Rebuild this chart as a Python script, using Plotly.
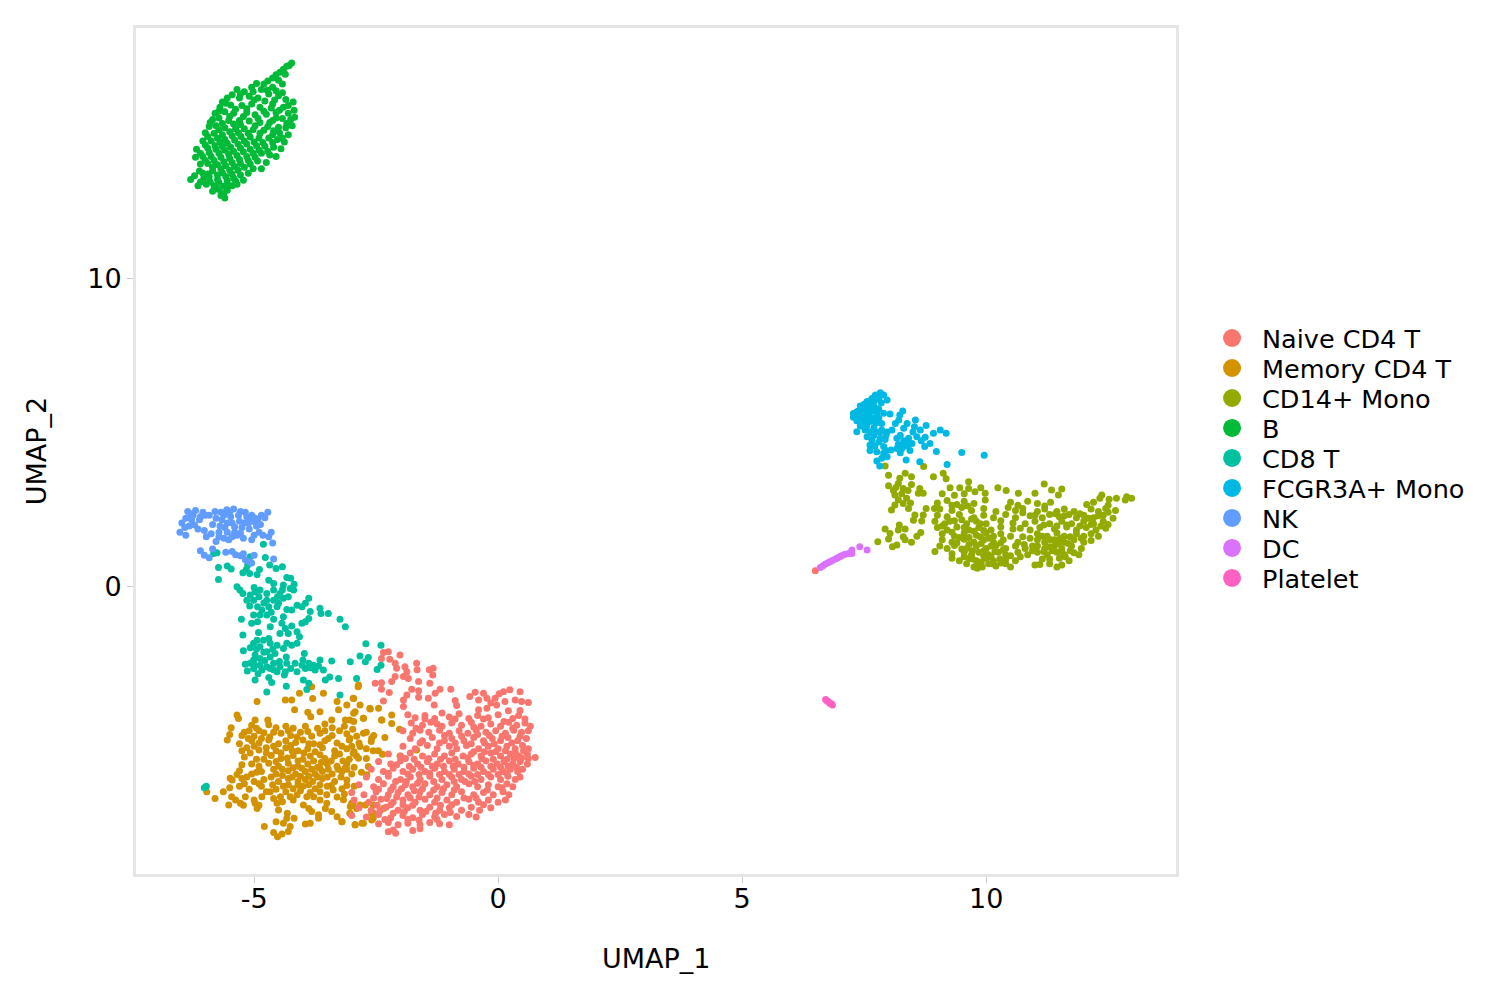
import plotly.graph_objects as go

CATEGORIES = ["Naive CD4 T", "Memory CD4 T", "CD14+ Mono", "B", "CD8 T", "FCGR3A+ Mono", "NK", "DC", "Platelet"]
COLORS = ["#F8766D", "#D39200", "#93AA00", "#00BA38", "#00C19F", "#00B9E3", "#619CFF", "#DB72FB", "#FF61C3"]

B = [(-4.23,16.98),(-4.28,16.9),(-4.33,16.88),(-4.4,16.78),(-4.47,16.68),(-4.36,16.62),(-4.55,16.6),(-4.62,16.5),(-4.5,16.42),(-4.42,16.3),(-4.72,16.4),(-4.8,16.3),(-4.95,16.32),(-5.05,16.2),(-4.85,16.12),(-4.62,16.2),(-4.42,16.02),(-4.5,15.92),(-4.7,15.98),
(-5.35,16.12),(-5.2,16.05),(-5.45,15.95),(-5.55,15.85),(-5.3,15.85),(-5.1,15.9),(-4.92,15.85),(-4.78,15.75),(-4.58,15.78),(-4.35,15.8),(-4.3,15.6),(-4.2,15.72),(-5.65,15.72),(-5.7,15.55),(-5.48,15.62),(-5.25,15.6),(-5.05,15.65),(-4.88,15.55),(-4.65,15.52),(-4.48,15.45),(-4.3,15.35),(-4.18,15.45),
(-5.8,15.35),(-5.6,15.4),(-5.42,15.35),(-5.15,15.38),(-4.98,15.3),(-4.75,15.32),(-4.55,15.2),(-4.42,15.18),(-4.25,15.15),(-4.17,15.22),(-5.85,15.15),(-5.72,15.2),(-5.52,15.12),(-5.3,15.12),(-5.1,15.1),(-4.88,15.05),(-4.68,15.05),(-4.22,14.95),(-4.35,14.88),
(-5.92,14.92),(-5.78,14.95),(-5.6,14.88),(-5.38,14.85),(-5.2,14.85),(-5.02,14.82),(-4.8,14.8),(-4.6,14.78),(-4.48,14.72),(-4.3,14.65),(-6.0,14.72),(-5.82,14.7),(-5.65,14.65),(-5.45,14.62),(-5.27,14.6),(-5.08,14.58),(-4.9,14.55),(-4.7,14.55),(-4.52,14.5),(-4.38,14.42),
(-6.05,14.45),(-5.88,14.45),(-5.7,14.42),(-5.55,14.38),(-5.33,14.35),(-5.15,14.35),(-4.95,14.3),(-4.78,14.28),(-4.6,14.25),(-4.45,14.2),(-6.18,14.18),(-5.95,14.22),(-5.78,14.18),(-5.6,14.15),(-5.42,14.12),(-5.22,14.1),(-5.02,14.05),(-4.85,14.05),(-4.68,14.0),(-4.55,13.95),
(-6.2,13.92),(-6.05,13.95),(-5.88,13.95),(-5.68,13.92),(-5.5,13.88),(-5.3,13.85),(-5.12,13.82),(-4.93,13.8),(-4.75,13.75),(-6.1,13.7),(-5.95,13.72),(-5.75,13.68),(-5.58,13.65),(-5.4,13.62),(-5.2,13.6),(-5.02,13.55),(-4.85,13.55),
(-6.12,13.48),(-5.85,13.48),(-5.65,13.42),(-5.45,13.38),(-5.28,13.35),(-5.12,13.4),(-6.3,13.2),(-6.22,13.32),(-6.03,13.25),(-5.92,13.28),(-5.75,13.2),(-5.55,13.18),(-5.38,13.15),(-5.22,13.18),(-6.15,13.0),(-5.98,13.05),(-5.82,13.0),(-5.62,12.98),(-5.45,13.0),(-5.35,13.05),(-5.85,12.82),(-5.72,12.88),(-5.55,12.85),(-5.68,12.68),(-5.62,12.75),(-5.6,12.6),
(-5.02,16.05),(-4.73,16.1),(-4.55,16.08),(-5.28,15.98),(-5.0,15.78),(-4.62,15.65),(-4.4,15.55),(-5.58,15.68),(-5.38,15.48),(-5.15,15.5),(-4.8,15.42),(-4.55,15.38),(-5.72,15.42),(-5.5,15.25),(-5.22,15.25),(-4.92,15.18),(-4.62,15.12),(-4.33,15.02),(-5.9,15.05),(-5.65,15.02),(-5.42,15.0),(-5.28,14.98),(-4.98,14.95),(-4.72,14.92),(-4.5,14.9),(-5.72,14.82),(-5.5,14.75),(-5.32,14.72),(-5.12,14.7),(-4.88,14.7),(-4.62,14.65),(-4.42,14.55),(-5.95,14.6),(-5.75,14.55),(-5.6,14.5),(-5.4,14.48),(-5.2,14.45),(-5.0,14.42),(-4.82,14.4),(-4.62,14.4),(-6.0,14.32),(-5.8,14.3),(-5.65,14.27),(-5.48,14.25),(-5.28,14.22),(-5.08,14.18),(-4.9,14.15),(-4.72,14.12),(-6.1,14.05),(-5.92,14.08),(-5.72,14.05),(-5.52,14.02),(-5.35,13.98),(-5.15,13.95),(-4.98,13.92),(-6.0,13.82),(-5.82,13.82),(-5.62,13.78),(-5.45,13.75),(-5.28,13.72),(-5.08,13.7),(-5.85,13.6),(-5.68,13.55),(-5.5,13.5),(-5.33,13.5),(-6.05,13.4),(-5.95,13.38),(-5.75,13.35),(-5.58,13.3),(-6.1,13.12),(-5.9,13.12),(-5.72,13.1),(-5.55,13.05),(-5.42,13.25),(-5.8,12.92)]

NK = [(-6.52,1.75),(-6.48,2.05),(-6.42,1.9),(-6.4,2.2),(-6.3,2.35),(-6.22,1.98),(-6.2,2.45),(-6.1,2.25),(-6.05,2.4),(-6.02,1.8),(-5.98,1.6),(-5.92,2.3),(-5.85,2.0),(-5.8,2.42),(-5.78,1.45),(-5.72,1.75),(-5.66,2.15),(-5.6,1.9),(-5.56,2.48),(-5.52,1.5),(-5.48,2.25),(-5.42,2.5),(-5.4,1.75),(-5.3,2.1),(-5.28,2.42),(-5.25,1.9),(-5.22,1.55),(-5.15,2.25),(-5.1,1.85),(-5.05,2.3),(-5.0,1.65),(-4.98,2.08),(-4.92,2.18),(-4.87,2.0),(-4.82,1.65),(-4.78,2.22),(-4.72,2.4),(-4.7,1.6),(-4.65,1.75),(-4.62,1.4),(-6.36,2.42),(-6.28,2.15),(-6.15,1.85),(-6.12,2.15),(-5.88,1.7),(-5.7,1.95),(-5.62,2.3),(-5.45,2.05),(-5.35,1.65),(-5.2,2.05),(-5.08,2.1),(-4.9,1.75),(-5.05,1.5),(-5.85,1.2),(-6.1,1.15),(-6.02,1.0),(-5.92,0.92),(-5.58,1.1),(-5.45,1.12),(-5.38,1.02),(-5.28,0.98),(-5.22,1.05),(-5.18,0.85),(-5.1,0.8),(-5.05,0.75),(-5.0,1.0),(-4.6,0.88),
(-6.33,1.95),(-6.25,2.3),(-6.0,2.3),(-5.78,2.2),(-5.68,2.4),(-5.5,2.38),(-5.55,2.05),(-5.55,1.75),(-5.4,1.92),(-5.32,2.3),(-5.18,2.4),(-5.12,2.05),(-4.95,1.95),(-5.0,2.22),(-4.85,2.3),(-5.28,1.72),(-5.45,1.6),(-5.72,1.6),(-5.62,1.55),(-6.4,1.65)]

CD8 = [(-4.81,1.36),(-5.83,1.06),(-5.76,1.08),(-5.08,0.95),(-4.77,0.93),(-5.73,0.6),(-5.55,0.65),(-5.47,0.55),(-5.73,0.21),(-5.13,0.68),(-5.16,0.54),(-5.23,0.43),(-5.09,0.41),(-4.89,0.54),(-4.94,0.37),(-4.68,0.68),(-4.55,0.57),(-4.42,0.63),(-4.33,0.28),(-4.25,0.25),(-4.7,0.19),(-4.6,0.08),(-4.4,0.03),(-4.18,0.06),(-4.19,-0.13),(-5.35,-0.02),(-5.29,-0.13),(-5.23,-0.24),(-5.08,-0.29),(-4.98,-0.19),(-4.88,-0.13),(-4.74,-0.24),(-4.6,-0.13),(-4.47,-0.24),(-4.3,-0.35),(-4.26,-0.08),(-5.15,-0.46),(-5.01,-0.46),(-4.74,-0.46),(-4.6,-0.46),(-4.5,-0.56),(-4.4,-0.4),(-3.88,-0.4),(-3.95,-0.56),(-4.12,-0.62),(-5.09,-0.65),(-4.93,-0.67),(-4.84,-0.78),(-4.7,-0.67),(-4.53,-0.67),(-4.33,-0.76),(-4.23,-0.78),(-4.02,-0.67),(-3.85,-0.83),(-3.65,-0.72),(-3.63,-0.89),(-3.48,-0.89),(-5.01,-0.94),(-4.88,-0.94),(-4.74,-0.94),(-4.4,-1.0),(-3.88,-1.05),(-3.95,-1.16),(-4.02,-1.21),(-3.24,-1.08),(-3.13,-1.32),(-5.26,-1.08),(-4.93,-1.16),(-5.05,-1.21),(-4.6,-1.08),(-4.43,-1.21),(-4.36,-1.38),(-4.23,-1.3),(-4.67,-1.32),(-5.23,-1.59),(-4.91,-1.51),(-4.47,-1.54),(-4.3,-1.54),(-4.12,-1.48),(-4.07,-1.65),(-4.94,-1.76),(-4.81,-1.76),(-4.7,-1.7),(-5.01,-1.86),(-5.08,-2.0),(-4.88,-1.97),(-4.67,-1.86),(-4.53,-1.92),(-4.33,-1.86),(-4.4,-2.03),(-4.23,-1.92),(-4.12,-1.86),(-5.22,-2.1),(-4.74,-2.13),(-4.57,-2.19),(-4.98,-2.24),(-4.88,-2.35),(-4.67,-2.3),(-4.34,-2.3),(-3.97,-2.19),(-5.01,-2.4),(-5.18,-2.54),(-5.08,-2.51),(-4.88,-2.57),(-4.74,-2.62),(-4.6,-2.51),(-4.47,-2.62),(-4.33,-2.51),(-4.16,-2.51),(-4.02,-2.57),(-3.88,-2.51),(-3.78,-2.57),(-3.65,-2.4),(-3.41,-2.43),(-3.03,-2.46),(-5.14,-2.76),(-5.01,-2.68),(-4.84,-2.73),(-4.67,-2.68),(-4.53,-2.78),(-4.36,-2.78),(-4.12,-2.78),(-3.95,-2.68),(-3.75,-2.73),(-3.58,-2.73),(-4.98,-3.05),(-4.7,-2.97),(-4.64,-3.13),(-4.38,-2.89),(-4.34,-3.25),(-3.99,-3.05),(-3.88,-3.16),(-3.54,-3.05),(-3.45,-2.95),(-3.27,-3.0),(-2.9,-3.0),(-4.74,-3.44),(-3.92,-3.36),(-3.24,-3.54),(-2.71,-1.87),(-2.4,-1.92),(-2.83,-2.27),(-2.66,-2.32),(-2.72,-2.46),(-2.4,-2.57),(-2.48,-2.71),(-5.98,-6.5),(-6.02,-6.55),
(-5.0,-0.05),(-4.9,-0.35),(-4.8,-0.55),(-4.42,-0.12),(-4.52,-0.35),(-4.65,-0.85),(-4.95,-2.05),(-4.8,-2.15),(-4.62,-2.05),(-4.48,-2.45),(-4.25,-2.68),(-4.0,-2.4),(-3.85,-2.65),(-3.68,-2.6),(-5.0,-2.55),(-4.78,-2.42),(-4.92,-2.85),(-4.6,-2.72)]

MEMORY = [(-3.82,-3.27),(-4.07,-3.48),(-3.58,-3.48),(-3.8,-3.65),(-4.36,-3.7),(-4.23,-3.7),(-4.94,-3.75),(-2.87,-3.27),(-2.96,-3.65),(-3.3,-3.75),(-3.1,-3.86),(-2.83,-3.86),(-5.35,-4.19),(-5.32,-4.3),(-4.98,-4.35),(-4.72,-4.35),(-4.17,-4.02),(-3.9,-4.1),(-3.84,-4.24),(-3.65,-4.08),(-3.27,-4.02),(-2.96,-4.13),(-2.62,-3.99),(-2.45,-3.97),(-2.38,-4.35),(-2.76,-4.29),(-3.13,-4.35),(-2.96,-4.4),(-3.41,-4.35),
(-5.47,-4.6),(-5.05,-4.52),(-4.95,-4.62),(-4.7,-4.5),(-4.55,-4.6),(-4.35,-4.55),(-4.2,-4.62),(-3.95,-4.55),(-3.7,-4.62),(-3.55,-4.48),(-3.4,-4.6),(-3.15,-4.55),(-2.98,-4.65),
(-5.5,-4.82),(-5.2,-4.75),(-5.0,-4.88),(-4.8,-4.76),(-4.68,-4.9),(-4.45,-4.78),(-4.25,-4.85),(-4.05,-4.75),(-3.82,-4.88),(-3.65,-4.78),(-3.4,-4.85),(-3.1,-4.8),(-2.9,-4.88),(-2.7,-4.75),(-2.55,-4.85),
(-5.55,-5.0),(-5.3,-5.12),(-5.05,-5.02),(-4.9,-5.1),(-4.7,-5.0),(-4.5,-5.12),(-4.35,-5.02),(-4.15,-5.08),(-4.0,-5.0),(-3.78,-5.12),(-3.55,-5.02),(-3.3,-5.1),(-3.05,-5.0),(-2.85,-5.1),(-2.6,-5.05),
(-5.25,-5.35),(-5.15,-5.25),(-4.9,-5.32),(-4.75,-5.25),(-4.55,-5.35),(-4.35,-5.25),(-4.1,-5.35),(-3.9,-5.28),(-3.75,-5.38),(-3.6,-5.25),(-3.35,-5.35),(-3.1,-5.28),(-2.95,-5.38),(-2.7,-5.28),(-2.45,-5.35),
(-5.2,-5.55),(-4.95,-5.62),(-4.65,-5.5),(-4.45,-5.6),(-4.2,-5.5),(-4.0,-5.62),(-3.85,-5.52),(-3.55,-5.6),(-3.35,-5.52),(-3.05,-5.62),(-2.9,-5.52),(-2.7,-5.6),
(-5.25,-5.8),(-4.9,-5.85),(-4.7,-5.75),(-4.5,-5.85),(-4.3,-5.75),(-4.1,-5.85),(-3.9,-5.78),(-3.7,-5.88),(-3.5,-5.78),(-3.3,-5.85),(-3.1,-5.78),(-2.95,-5.88),
(-5.3,-6.0),(-5.05,-6.1),(-4.85,-6.02),(-4.55,-6.1),(-4.3,-6.0),(-4.15,-6.1),(-3.95,-6.02),(-3.75,-6.1),(-3.6,-6.02),(-3.4,-6.1),(-3.2,-6.02),(-3.0,-6.1),(-2.8,-6.05),
(-5.45,-6.3),(-5.25,-6.25),(-5.0,-6.35),(-4.8,-6.28),(-4.5,-6.35),(-4.3,-6.25),(-4.1,-6.35),(-3.95,-6.28),(-3.8,-6.35),(-3.6,-6.25),(-3.35,-6.35),(-3.1,-6.3),
(-5.5,-6.55),(-5.3,-6.5),(-5.1,-6.6),(-4.85,-6.5),(-4.55,-6.6),(-4.4,-6.5),(-4.2,-6.58),(-4.0,-6.5),(-3.75,-6.58),(-3.5,-6.5),(-3.2,-6.58),(-2.95,-6.5),
(-5.97,-6.68),(-5.8,-6.9),(-5.63,-6.68),(-5.49,-6.24),(-5.46,-6.84),(-5.52,-7.11),(-5.28,-7.05),(-5.18,-6.84),(-4.98,-7.05),(-4.84,-6.84),(-4.67,-6.68),(-4.53,-7.05),(-4.46,-6.84),(-4.26,-6.84),(-4.12,-6.78),(-3.92,-6.84),(-3.78,-6.84),(-3.51,-6.78),(-3.38,-6.62),(-3.51,-7.05),(-3.99,-7.11),(-3.88,-7.22),(-4.94,-7.22),(-4.5,-7.27),(-3.03,-7.16),(-2.9,-7.22),(-2.55,-7.38),(-3.03,-7.38),
(-4.32,-7.38),(-4.33,-7.54),(-4.18,-7.54),(-4.55,-7.65),(-4.4,-7.7),(-4.26,-7.81),(-4.79,-7.81),(-4.6,-8.0),(-4.52,-8.14),(-4.43,-8.05),(-4.3,-7.97),(-3.95,-7.73),(-3.85,-7.7),(-3.82,-7.32),(-3.68,-7.43),(-3.68,-7.54),(-3.54,-7.22),(-3.41,-7.32),(-3.3,-7.49),(-3.2,-7.65),(-2.93,-7.76),(-2.79,-7.7),(-2.72,-7.11),(-2.59,-7.6),(-3.0,-7.05),
(-2.86,-3.21),(-2.97,-3.64),(-2.93,-4.08),(-2.63,-3.97),(-2.18,-4.19),(-2.39,-4.35),(-2.18,-4.46),(-2.02,-4.65),(-2.76,-4.29),(-3.04,-4.35),(-2.76,-4.78),(-2.59,-4.94),(-3.04,-4.94),(-2.32,-4.92),(-2.83,-5.21),(-2.56,-5.35),(-2.37,-5.46),(-2.01,-5.52),(-1.67,-5.32),(-2.97,-5.43),(-2.86,-5.59),(-2.66,-5.86),(-2.69,-6.13),(-3.14,-5.92),(-2.97,-7.11),(-2.83,-7.11),(-2.56,-7.11),(-2.35,-7.22),(-2.59,-7.38),(-3.04,-7.38),(-2.93,-7.74),(-2.76,-7.7),(-2.56,-7.54),(-3.2,-7.65),(-3.17,-6.94),
(-5.1,-4.7),(-4.9,-4.7),(-4.85,-4.95),(-5.12,-4.95),(-5.25,-4.85),(-4.6,-4.75),(-4.3,-4.7),(-4.12,-4.9),(-3.9,-4.72),(-3.55,-4.7),(-3.25,-4.7),(-3.48,-4.95),(-3.2,-5.2),(-3.65,-5.15),(-3.88,-5.12),(-4.25,-5.18),(-4.6,-5.2),(-5.0,-5.2),(-5.08,-5.42),(-4.75,-5.42),(-4.45,-5.42),(-4.22,-5.35),(-3.98,-5.42),(-3.65,-5.48),(-3.25,-5.45),(-3.0,-5.2),
(-4.8,-5.62),(-4.55,-5.7),(-4.32,-5.58),(-4.1,-5.68),(-3.78,-5.68),(-3.62,-5.72),(-3.42,-5.68),(-3.18,-5.68),(-5.05,-5.78),(-4.6,-5.95),(-4.42,-5.95),(-4.2,-5.9),(-4.02,-5.92),(-3.82,-5.95),(-3.65,-5.92),(-3.48,-5.95),(-3.28,-5.95),(-3.1,-5.95),(-4.95,-6.05),(-4.65,-6.2),(-4.42,-6.15),(-4.22,-6.2),(-4.05,-6.18),(-3.88,-6.18),(-3.7,-6.2),(-3.5,-6.2),(-3.22,-6.2),(-5.15,-6.2),(-5.35,-6.12),(-5.2,-6.42),(-4.9,-6.42),(-4.62,-6.45),(-4.3,-6.45),(-4.1,-6.45),(-3.88,-6.45),(-3.65,-6.45),(-3.42,-6.48),(-3.1,-6.48),(-4.75,-6.68),(-4.35,-6.68),(-4.05,-6.65),(-3.85,-6.7),(-3.65,-6.68),(-4.2,-6.95),(-4.42,-7.0),(-4.6,-6.9),(-3.65,-6.95),(-3.3,-6.85),(-3.15,-6.75),(-5.38,-6.95),(-5.0,-6.95),(-5.22,-7.12),(-4.9,-7.12)]

NAIVE = [(6.5,0.5),(-2.35,-2.16),(-2.25,-2.13),(-2.39,-2.35),(-2.22,-2.38),(-2.01,-2.24),(-2.11,-2.51),(-2.08,-2.67),(-1.91,-2.62),(-1.87,-2.78),(-1.67,-2.51),(-1.66,-2.72),(-1.41,-2.72),(-1.33,-2.67),(-1.34,-2.89),(-2.11,-2.94),(-2.18,-3.1),(-1.94,-2.94),(-1.84,-3.0),(-2.52,-3.16),(-2.39,-3.14),(-1.63,-3.1),(-1.4,-3.16),(-2.39,-3.35),(-2.23,-3.46),(-1.77,-3.35),(-1.63,-3.4),(-1.87,-3.54),(-1.94,-3.7),(-1.94,-3.91),(-1.63,-3.61),(-1.43,-3.64),(-1.29,-3.48),(-1.19,-3.35),(-0.97,-3.35),(-2.35,-3.73),(-1.31,-3.86),(-0.88,-3.72),(-0.85,-3.88),(-0.58,-3.59),(-0.47,-3.45),(-0.3,-3.48),(-0.4,-3.7),(-0.23,-3.64),(-0.06,-3.64),(0.11,-3.43),(0.24,-3.37),(0.45,-3.43),(0.62,-3.78),(0.48,-3.75),(0.35,-3.7),(0.14,-3.75),(-0.03,-3.86),(-0.23,-3.97),(-0.4,-4.02),(0.21,-4.05),(0.45,-4.04),(0.02,-3.5),(-0.15,-3.8),
(-1.85,-4.18),(-1.7,-4.28),(-1.5,-4.2),(-1.3,-4.3),(-1.15,-4.12),(-1.0,-4.25),(-0.8,-4.15),(-0.6,-4.3),(-0.42,-4.2),(-0.2,-4.28),(0.0,-4.18),(0.3,-4.3),(0.42,-4.2),(0.55,-4.32),
(-1.78,-4.45),(-1.55,-4.52),(-1.38,-4.42),(-1.15,-4.55),(-0.95,-4.45),(-0.75,-4.52),(-0.55,-4.42),(-0.35,-4.55),(-0.15,-4.48),(0.05,-4.55),(0.22,-4.42),(0.38,-4.52),(0.55,-4.45),(0.66,-4.55),
(-1.95,-4.7),(-1.75,-4.78),(-1.6,-4.68),(-1.42,-4.75),(-1.2,-4.68),(-1.0,-4.78),(-0.8,-4.7),(-0.62,-4.78),(-0.45,-4.68),(-0.25,-4.75),(-0.05,-4.7),(0.15,-4.78),(0.32,-4.68),(0.48,-4.75),(0.62,-4.7),
(-1.8,-4.95),(-1.55,-5.02),(-1.35,-4.92),(-1.1,-5.02),(-0.95,-4.95),(-0.7,-5.02),(-0.5,-4.92),(-0.3,-5.02),(-0.12,-4.95),(0.05,-5.02),(0.2,-4.92),(0.4,-5.02),(0.58,-4.95),
(-1.95,-5.2),(-1.7,-5.28),(-1.45,-5.18),(-1.25,-5.28),(-1.0,-5.2),(-0.85,-5.28),(-0.65,-5.18),(-0.4,-5.28),(-0.2,-5.2),(0.0,-5.28),(0.18,-5.2),(0.35,-5.28),(0.5,-5.18),(0.62,-5.28),
(-2.25,-5.45),(-2.0,-5.52),(-1.8,-5.42),(-1.55,-5.52),(-1.3,-5.45),(-1.1,-5.52),(-0.95,-5.42),(-0.72,-5.52),(-0.55,-5.45),(-0.35,-5.52),(-0.15,-5.42),(0.05,-5.52),(0.25,-5.45),(0.42,-5.52),(0.6,-5.45),(0.76,-5.57),
(-2.45,-5.7),(-2.2,-5.78),(-2.0,-5.68),(-1.65,-5.78),(-1.45,-5.7),(-1.25,-5.78),(-1.0,-5.68),(-0.82,-5.78),(-0.6,-5.7),(-0.42,-5.78),(-0.25,-5.68),(-0.02,-5.78),(0.12,-5.7),(0.3,-5.78),(0.45,-5.7),(0.6,-5.78),
(-2.6,-5.95),(-2.35,-6.02),(-2.15,-5.92),(-1.95,-6.02),(-1.75,-5.95),(-1.5,-6.02),(-1.3,-5.92),(-1.1,-6.02),(-0.9,-5.95),(-0.7,-6.02),(-0.5,-5.92),(-0.3,-6.02),(-0.1,-5.95),(0.1,-6.02),(0.25,-5.95),(0.4,-6.02),(0.5,-5.95),
(-2.7,-6.2),(-2.45,-6.28),(-2.25,-6.18),(-2.0,-6.28),(-1.8,-6.2),(-1.6,-6.28),(-1.4,-6.18),(-1.15,-6.28),(-0.95,-6.2),(-0.75,-6.28),(-0.55,-6.18),(-0.35,-6.28),(-0.15,-6.2),(0.05,-6.28),(0.2,-6.18),(0.35,-6.28),(0.45,-6.2),
(-2.85,-6.45),(-2.55,-6.52),(-2.35,-6.42),(-2.15,-6.52),(-1.9,-6.45),(-1.75,-6.52),(-1.5,-6.42),(-1.25,-6.52),(-1.05,-6.45),(-0.85,-6.52),(-0.6,-6.42),(-0.42,-6.52),(-0.2,-6.45),(0.0,-6.52),(0.18,-6.42),(0.3,-6.52),
(-3.0,-6.7),(-2.75,-6.78),(-2.5,-6.68),(-2.25,-6.78),(-2.05,-6.7),(-1.85,-6.78),(-1.6,-6.68),(-1.4,-6.78),(-1.15,-6.7),(-0.95,-6.78),(-0.75,-6.68),(-0.5,-6.78),(-0.3,-6.7),(-0.1,-6.78),(0.1,-6.68),(0.22,-6.78),
(-2.95,-6.95),(-2.65,-7.02),(-2.4,-6.92),(-2.15,-7.02),(-1.95,-6.95),(-1.7,-7.02),(-1.5,-6.92),(-1.3,-7.02),(-1.05,-6.95),(-0.85,-7.02),(-0.6,-6.92),(-0.4,-7.02),(-0.2,-6.95),(0.0,-7.02),(0.15,-6.95),
(-2.85,-7.2),(-2.6,-7.28),(-2.3,-7.18),(-2.05,-7.28),(-1.85,-7.2),(-1.6,-7.28),(-1.4,-7.18),(-1.2,-7.28),(-1.0,-7.2),(-0.75,-7.28),(-0.55,-7.18),(-0.38,-7.28),(-0.15,-7.2),
(-3.0,-7.45),(-2.7,-7.5),(-2.45,-7.42),(-2.2,-7.52),(-1.95,-7.45),(-1.75,-7.52),(-1.55,-7.42),(-1.3,-7.5),(-1.1,-7.42),(-0.85,-7.48),(-0.6,-7.42),(-0.45,-7.5),
(-2.45,-7.72),(-2.25,-7.68),(-2.05,-7.75),(-1.85,-7.7),(-1.6,-7.75),(-1.4,-7.68),(-1.2,-7.72),(-1.0,-7.75),(-2.25,-7.98),(-2.1,-8.03),(-1.75,-7.94),(-1.6,-7.88),(-2.15,-7.92),
(-1.5,-4.32),(-1.25,-4.48),(-0.88,-4.32),(-0.5,-4.58),(-0.3,-4.32),(0.12,-4.4),(0.3,-4.62),(-1.68,-4.62),(-1.1,-4.85),(-0.75,-4.88),(-0.42,-4.82),(-0.18,-4.85),(0.08,-4.88),(0.45,-4.88),(-1.6,-5.1),(-1.2,-5.1),(-0.88,-5.1),(-0.55,-5.12),(-0.28,-5.1),(-0.08,-5.12),(0.28,-5.1),(0.52,-5.35),(-0.5,-5.38),(-0.28,-5.38),(-0.05,-5.38),(0.15,-5.35),(0.35,-5.4),(0.62,-5.6),(0.48,-5.58),(0.32,-5.6),(0.18,-5.62),(-0.1,-5.62),(-0.33,-5.6),(-0.62,-5.58),(-0.88,-5.62),(-1.18,-5.62),(-1.42,-5.6),(-1.72,-5.62),(-1.9,-5.6),(-2.08,-5.8),(-1.82,-5.85),(-1.58,-5.88),(-1.35,-5.85),(-1.12,-5.85),(-0.92,-5.85),(-0.7,-5.88),(-0.5,-5.82),(-0.35,-5.88),(-0.15,-5.85),(0.05,-5.88),(0.2,-5.85),(0.38,-5.88),
(-2.25,-6.08),(-1.85,-6.1),(-1.62,-6.12),(-1.4,-6.08),(-1.2,-6.12),(-1.0,-6.12),(-0.8,-6.12),(-0.6,-6.1),(-0.42,-6.12),(-0.2,-6.12),(0.0,-6.12),(0.18,-6.08),(-2.1,-6.35),(-1.88,-6.35),(-1.65,-6.4),(-1.32,-6.35),(-0.9,-6.35),(-0.68,-6.35),(-0.48,-6.35),(-2.45,-6.6),(-2.2,-6.62),(-1.98,-6.58),(-1.72,-6.65),(-1.55,-6.58),(-1.32,-6.62),(-1.12,-6.58),(-0.9,-6.62),(-0.22,-6.62),(0.08,-6.55),(-2.55,-6.88),(-2.28,-6.9),(-2.08,-6.85),(-1.8,-6.88),(-1.62,-6.85),(-1.25,-6.88),(-0.7,-6.88),(-0.45,-6.88),(-2.48,-7.12),(-2.2,-7.1),(-1.95,-7.1),(-1.75,-7.12),(-1.18,-7.12),(-0.95,-7.1),(-0.3,-7.1),(-2.42,-7.3),(-2.15,-7.38),(-1.92,-7.32),(-1.48,-7.32),(-1.28,-7.38),(-0.98,-7.35),(-2.32,-7.58),(-1.85,-7.58),(-1.62,-7.6),(-1.25,-7.58)]

MONO = [(7.93,3.9),(8.72,3.88),(8.0,3.6),(8.0,3.26),(8.34,3.66),(8.47,3.55),(8.23,3.5),(8.2,3.33),(8.47,3.3),(8.92,3.55),(9.12,3.66),(9.18,3.48),(9.64,3.39),(8.3,3.17),(8.13,2.96),(8.27,3.0),(8.37,2.85),(8.64,3.17),(8.61,3.01),(8.71,3.01),(8.13,2.63),(8.06,2.47),(8.3,2.68),(8.41,2.52),(8.54,2.31),(8.77,2.52),(8.71,2.31),(8.68,2.11),(8.51,2.14),(8.94,2.52),(8.15,3.2),(8.4,3.1),(8.2,2.8),(8.45,2.7),(8.1,3.1),
(9.26,3.19),(9.46,3.19),(9.64,3.17),(9.77,3.06),(9.89,3.19),(9.98,3.01),(9.98,2.79),(10.24,3.19),(10.41,3.1),(10.66,3.01),(11.0,3.01),(11.19,3.31),(11.34,3.12),(11.55,3.15),(11.48,2.96),(11.32,2.72),(12.06,2.65),(12.33,2.85),(12.37,2.96),(12.52,2.82),(12.67,2.85),(12.88,2.9),(12.98,2.85),(12.85,2.79),(9.1,3.0),(9.35,2.95),(9.55,3.0),
(7.78,1.44),(7.93,1.85),(8.0,1.53),(8.03,1.71),(8.08,1.28),(8.17,1.33),(8.22,1.98),(8.2,1.82),(8.34,1.85),(8.3,1.6),(8.34,1.5),(8.47,1.42),(8.58,1.62),(8.66,1.74),
(9.0,2.7),(9.2,2.78),(9.4,2.65),(9.55,2.75),(9.75,2.68),(10.5,2.72),(10.65,2.62),(10.85,2.75),(11.05,2.68),(11.2,2.6),(12.2,2.72),(12.5,2.62),
(9.05,2.5),(9.3,2.45),(9.5,2.55),(9.7,2.45),(9.95,2.52),(10.2,2.42),(10.45,2.55),(10.6,2.45),(10.75,2.52),(11.05,2.42),(11.2,2.5),(11.45,2.42),(11.6,2.5),(11.8,2.42),(12.15,2.5),(12.3,2.42),(12.45,2.52),(12.65,2.45),
(9.0,2.3),(9.2,2.25),(9.45,2.32),(9.75,2.22),(9.95,2.3),(10.15,2.22),(10.4,2.32),(10.6,2.22),(10.9,2.28),(11.15,2.22),(11.3,2.32),(11.5,2.25),(11.7,2.32),(11.85,2.22),(12.0,2.3),(12.2,2.22),(12.4,2.3),(12.6,2.2),
(8.95,2.1),(9.15,2.02),(9.35,2.12),(9.6,2.02),(9.8,2.1),(10.0,2.02),(10.3,2.12),(10.55,2.05),(10.8,2.02),(11.0,2.1),(11.3,2.02),(11.55,2.1),(11.75,2.02),(12.0,2.1),(12.2,2.02),(12.4,2.1),(12.5,2.0),
(9.0,1.9),(9.2,1.82),(9.4,1.92),(9.65,1.82),(9.85,1.9),(10.1,1.82),(10.3,1.92),(10.55,1.85),(10.7,1.88),(10.9,1.82),(11.1,1.9),(11.4,1.85),(11.65,1.92),(11.85,1.82),(12.05,1.9),(12.25,1.82),(12.45,1.88),
(9.1,1.7),(9.35,1.62),(9.55,1.72),(9.8,1.65),(10.0,1.72),(10.15,1.62),(10.3,1.7),(10.5,1.62),(10.75,1.6),(11.05,1.7),(11.25,1.62),(11.45,1.72),(11.6,1.62),(11.85,1.7),(12.0,1.62),(12.15,1.7),(12.3,1.62),
(9.1,1.5),(9.3,1.42),(9.55,1.52),(9.75,1.42),(9.95,1.5),(10.15,1.42),(10.35,1.5),(10.65,1.42),(11.05,1.5),(11.2,1.42),(11.4,1.5),(11.6,1.42),(11.8,1.5),(12.0,1.42),(12.15,1.48),
(9.05,1.3),(9.2,1.22),(9.35,1.32),(9.6,1.22),(9.8,1.3),(10.0,1.22),(10.2,1.32),(10.4,1.22),(10.6,1.3),(10.8,1.22),(10.95,1.3),(11.2,1.22),(11.4,1.3),(11.55,1.22),(11.75,1.3),(11.95,1.22),
(8.95,1.12),(9.3,1.05),(9.55,1.1),(9.7,1.02),(9.85,1.1),(10.05,1.02),(10.25,1.1),(10.4,1.02),(10.65,1.1),(10.85,1.02),(11.05,1.1),(11.25,1.02),(11.45,1.1),(11.6,1.02),(11.8,1.08),(11.9,1.02),
(9.3,0.9),(9.45,0.82),(9.65,0.9),(9.8,0.82),(10.0,0.9),(10.15,0.82),(10.4,0.88),(10.6,0.82),(11.15,0.88),(11.5,0.9),(11.7,0.82),
(9.6,0.72),(9.75,0.62),(9.85,0.7),(10.05,0.72),(10.2,0.65),(10.4,0.72),(10.5,0.62),(11.0,0.68),(11.1,0.7),(11.3,0.72),(11.55,0.68),(11.45,0.62),(9.82,0.58),(9.92,0.62),
(9.3,2.62),(9.62,2.6),(9.25,2.1),(9.5,2.15),(9.7,2.18),(9.88,2.02),(9.1,1.95),(9.3,1.75),(9.55,1.9),(9.75,1.78),(9.95,1.8),(9.45,1.58),(9.65,1.58),(9.88,1.6),(10.05,1.55),(9.4,1.4),(9.65,1.35),(9.9,1.38),(10.1,1.3),(10.3,1.4),(9.5,1.2),(9.72,1.15),(9.95,1.15),(10.18,1.12),(10.35,1.18),(9.55,0.95),(9.72,0.88),(9.95,0.98),(10.1,0.95),(10.28,0.88),(10.5,0.98),(9.9,0.78),(10.12,0.72),(10.3,0.75),
(10.75,2.38),(11.0,2.3),(11.42,2.35),(11.6,2.28),(11.92,2.35),(12.1,2.2),(12.3,2.28),(12.5,2.4),(11.18,1.98),(11.45,1.95),(11.65,1.98),(11.92,1.95),(12.15,2.0),(12.35,1.95),(10.9,1.55),(11.15,1.62),(11.32,1.5),(11.52,1.55),(11.72,1.6),(11.95,1.55),(10.78,1.35),(11.05,1.3),(11.3,1.28),(11.48,1.38),(11.68,1.38),(10.95,1.15),(11.18,1.12),(11.35,1.15),(11.55,1.12),(11.72,1.15),(10.7,0.95),(11.3,0.88),(11.62,0.95)]

FCGR = [(7.83,6.28),(7.73,6.2),(7.9,6.2),(7.66,6.09),(7.8,6.09),(7.97,6.04),(7.56,5.99),(7.69,5.93),(7.42,5.85),(7.56,5.82),(7.73,5.77),(7.35,5.66),(7.49,5.66),(7.62,5.66),(7.76,5.61),(7.28,5.48),(7.42,5.5),(7.56,5.48),(7.69,5.45),(7.35,5.37),(7.49,5.34),(7.62,5.34),(7.86,5.28),(7.9,5.61),(8.03,5.59),(8.29,5.68),(8.23,5.55),(8.21,5.39),(8.14,5.28),(8.38,5.28),(8.55,5.39),(8.53,5.17),(8.65,5.07),(8.77,5.21),(8.31,5.12),(8.07,5.07),(7.35,5.01),(7.52,5.07),(7.62,5.01),(7.73,5.01),(7.86,5.07),(7.56,4.85),(7.66,4.74),(7.83,4.8),(7.93,4.76),(8.24,4.9),(8.17,4.8),(8.58,4.85),(8.75,4.83),(8.67,4.72),(8.41,4.8),(8.31,4.72),(8.48,4.63),(8.92,4.96),(9.06,5.07),(9.18,4.96),(8.85,4.63),(8.74,4.53),(7.62,4.58),(7.9,4.53),(8.17,4.47),(8.27,4.47),(8.44,4.4),(8.05,4.42),(8.98,4.37),(9.5,4.34),(9.96,4.25),(7.62,4.4),(7.76,4.36),(7.9,4.31),(8.24,4.33),(7.76,4.06),(7.86,4.15),(7.97,4.2),(8.36,4.09),(8.64,4.04),(9.2,3.95),(7.82,3.9),(7.5,5.9),(7.62,5.8),(7.4,5.7),(7.55,5.55),(7.68,5.7),(7.8,5.45),(7.3,5.58),(7.45,5.42),(7.82,5.0),(7.7,4.9),(7.97,5.0),(8.35,4.55),(8.5,5.0),
(7.6,6.0),(7.72,6.05),(7.85,5.95),(7.48,5.78),(7.8,5.75),(7.28,5.6),(7.62,5.5),(7.75,5.3),(7.55,5.2),(7.7,5.15),(7.42,5.2),(7.95,4.9),(7.8,4.68),(7.72,4.55),(7.95,4.4),(8.3,4.6),(8.4,4.6),(8.2,4.6)]

DC = [(6.6,0.6),(6.65,0.65),(6.7,0.71),(6.75,0.75),(6.8,0.79),(6.85,0.83),(6.91,0.88),(6.96,0.92),(7.01,0.96),(7.06,1.0),(7.11,1.03),(7.18,1.06),(7.25,1.17),(7.25,1.06),(7.41,1.28),(7.56,1.17)]
PLATELET = [(6.71,-3.68),(6.74,-3.73),(6.77,-3.76),(6.8,-3.81),(6.83,-3.82),(6.85,-3.86)]

SERIES = [NAIVE, MEMORY, MONO, B, CD8, FCGR, NK, DC, PLATELET]
DRAW_ORDER = [1, 0, 2, 3, 4, 5, 6, 7, 8]

fig = go.Figure()
for i in DRAW_ORDER:
    pts = SERIES[i]
    fig.add_trace(go.Scatter(
        x=[p[0] for p in pts], y=[p[1] for p in pts], mode="markers", name=CATEGORIES[i],
        marker=dict(size=7, color=COLORS[i], line=dict(width=0)), showlegend=False))

# key drawn on its own small axes so its row spacing matches the picture
fig.add_trace(go.Scatter(x=[0] * 9, y=CATEGORIES, mode="markers", xaxis="x2", yaxis="y2",
                         marker=dict(size=18, color=COLORS, line=dict(width=0)), showlegend=False, hoverinfo="skip"))
key_labels = [dict(x=28, y=c, xref="x2", yref="y2", text=c, showarrow=False, xanchor="left", yanchor="middle",
                   yshift=-1, font=dict(size=25.5, color="black")) for c in CATEGORIES]

FONT = "DejaVu Sans"
GRID = "#e6e6e6"
fig.update_layout(
    width=1500, height=1000, paper_bgcolor="white", plot_bgcolor="white",
    font=dict(family=FONT, size=26, color="black"),
    margin=dict(l=128, r=27, t=20, b=134, pad=0),
    showlegend=False,
    annotations=key_labels,
    xaxis=dict(domain=[0, 0.7736], range=[-7.42, 13.90], tickvals=[-5, 0, 5, 10], ticktext=["-5", "0", "5", "10"],
               showgrid=False, zeroline=False, showline=True, mirror=True, linecolor=GRID, linewidth=3,
               ticks="outside", ticklen=6, tickwidth=1, tickcolor="#cccccc", tickfont=dict(size=27), ticklabelstandoff=-7,
               title=dict(text="UMAP_1", font=dict(size=27), standoff=36)),
    yaxis=dict(domain=[0, 1], range=[-9.35, 18.12], tickvals=[0, 10], ticktext=["0", "10"],
               showgrid=False, zeroline=False, showline=True, mirror=True, linecolor=GRID, linewidth=3,
               ticks="outside", ticklen=6, tickwidth=1, tickcolor="#cccccc", tickfont=dict(size=27),
               title=dict(text="UMAP_2", font=dict(size=27), standoff=33)),
    xaxis2=dict(domain=[0.7985, 1], range=[-22, 248], visible=False, anchor="y2", fixedrange=True),
    yaxis2=dict(domain=[0.3322, 0.6513], range=[8.5, -0.5], type="category", categoryorder="array",
                categoryarray=CATEGORIES, visible=False, anchor="x2", fixedrange=True),
)
fig.write_html("out.html")
